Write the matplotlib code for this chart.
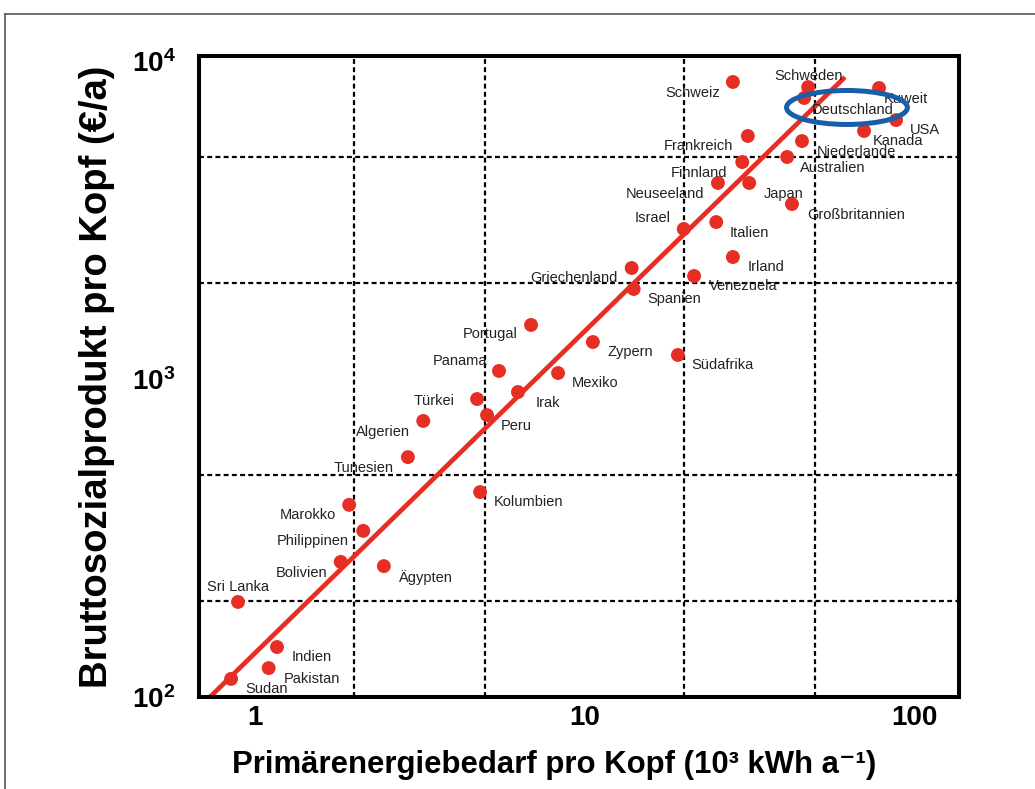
import matplotlib.pyplot as plt
from matplotlib.patches import Ellipse
from matplotlib.lines import Line2D

plt.rcParams["font.family"] = ["Liberation Sans", "DejaVu Sans"]
plt.rcParams["mathtext.fontset"] = "custom"
plt.rcParams["mathtext.rm"] = "Liberation Sans"
plt.rcParams["mathtext.bf"] = "Liberation Sans:bold"
plt.rcParams["mathtext.default"] = "bf"

# primary energy per head (10^3 kWh/a) and GNP per head (EUR/a)
countries = [
    "Schweiz", "Schweden", "Kuweit", "Deutschland", "USA", "Kanada",
    "Frankreich", "Niederlande", "Australien", "Finnland", "Neuseeland",
    "Japan", "Großbritannien", "Italien", "Israel", "Irland", "Griechenland",
    "Venezuela", "Spanien", "Portugal", "Zypern", "Südafrika", "Mexiko",
    "Panama", "Irak", "Türkei", "Peru", "Algerien", "Tunesien", "Kolumbien",
    "Marokko", "Philippinen", "Bolivien", "Ägypten", "Sri Lanka", "Indien",
    "Pakistan", "Sudan",
]
energy = [
    28.2, 47.7, 78.3, 46.4, 88.2, 70.5,
    31.3, 45.7, 41.2, 30.1, 25.4,
    31.6, 42.6, 25.1, 20.0, 28.2, 13.9,
    21.5, 14.1, 6.88, 10.6, 19.2, 8.31,
    5.50, 6.28, 4.72, 5.06, 3.24, 2.91, 4.82,
    1.93, 2.13, 1.82, 2.46, 0.888, 1.166,
    1.10, 0.846,
]
gnp = [
    8590, 8280, 8225, 7650, 6520, 6025,
    5810, 5600, 4990, 4810, 4135,
    4135, 3550, 3115, 2963, 2419, 2234,
    2108, 1919, 1479, 1307, 1190, 1044,
    1060, 910, 865, 770, 738, 568, 441,
    402, 333, 266, 258, 199, 143.6,
    123.3, 114,
]

# regression line end points
fit_energy = [0.73, 61.7]
fit_gnp = [100, 8900]

x_ticks = [1, 10, 100]
x_tick_labels = ["1", "10", "100"]
x_grid = [1, 2, 5, 10, 20, 50, 100]
y_ticks = [100, 1000, 10000]
y_tick_labels = ["10$^2$", "10$^3$", "10$^4$"]
y_grid = [200, 500, 1000, 2000, 5000]

# label offsets from the dot, in pixels (dx right, dy up)
label_offsets = {
    "Schweiz": (-40, -11), "Schweden": (0, 11), "Kuweit": (27, -11),
    "Deutschland": (49, -12), "USA": (29, -10), "Kanada": (34, -10),
    "Frankreich": (-49, -10), "Niederlande": (54, -11), "Australien": (46, -11),
    "Finnland": (-43, -11), "Neuseeland": (-53, -11), "Japan": (34, -11),
    "Großbritannien": (64, -11), "Italien": (33, -11), "Israel": (-31, 11),
    "Irland": (33, -10), "Griechenland": (-58, -10), "Venezuela": (49, -10),
    "Spanien": (41, -10), "Portugal": (-41, -9), "Zypern": (37, -10),
    "Südafrika": (45, -10), "Mexiko": (37, -10), "Panama": (-39, 10),
    "Irak": (30, -11), "Türkei": (-43, -2), "Peru": (29, -11),
    "Algerien": (-40, -11), "Tunesien": (-44, -11), "Kolumbien": (48, -10),
    "Marokko": (-41, -10), "Philippinen": (-50, -10), "Bolivien": (-39, -11),
    "Ägypten": (41, -11), "Sri Lanka": (0, 15), "Indien": (35, -10),
    "Pakistan": (43, -11), "Sudan": (35, -10),
}

red = "#e62e25"

fig = plt.figure(figsize=(10.35, 7.89), dpi=100)
ax = fig.add_axes([199 / 1035, 1 - 697 / 789, 760 / 1035, 641 / 789])
ax.set_xscale("log")
ax.set_yscale("log")
ax.set_xlim(0.676, 136.9)
ax.set_ylim(100, 10368)

ax.set_xticks(x_ticks)
ax.set_xticklabels(x_tick_labels)
ax.set_xticks(x_grid, minor=True)
ax.set_yticks(y_ticks)
ax.set_yticklabels(y_tick_labels)
ax.set_yticks(y_grid, minor=True)
ax.xaxis.set_minor_formatter(plt.NullFormatter())
ax.yaxis.set_minor_formatter(plt.NullFormatter())
ax.tick_params(which="both", length=0)
ax.tick_params(axis="x", pad=6, labelsize=20)
ax.tick_params(axis="y", pad=17, labelsize=20)
for lab in ax.get_xticklabels() + ax.get_yticklabels():
    lab.set_fontweight("bold")

ax.grid(which="minor", color="black", linestyle=(0, (2.2, 1.5)), linewidth=1.6)
ax.grid(which="major", visible=False)
ax.set_axisbelow(True)
for spine in ax.spines.values():
    spine.set_linewidth(2.9)
    spine.set_zorder(5)

ax.plot(fit_energy, fit_gnp, color=red, linewidth=3.4, zorder=3, solid_capstyle="butt")
ax.scatter(energy, gnp, s=100, color=red, edgecolors="none", zorder=4)

for name, xv, yv in zip(countries, energy, gnp):
    dx, dy = label_offsets[name]
    ax.annotate(name, (xv, yv), xytext=(dx, dy), textcoords="offset pixels",
                ha="center", va="center", fontsize=10.5, color="#222222", zorder=6)

ax.add_patch(Ellipse((0.8526, 0.9197), 0.159, 0.053, transform=ax.transAxes,
                     fill=False, edgecolor="#1a5ea8", linewidth=3.6, zorder=7))

fig.text(554 / 1035, 1 - 765 / 789,
         "Primärenergiebedarf pro Kopf (10³ kWh a⁻¹)",
         ha="center", va="center", fontsize=22.4, fontweight="bold")
fig.text(97 / 1035, 1 - 377 / 789, "Bruttosozialprodukt pro Kopf (€/a)",
         ha="center", va="center", rotation=90, fontsize=27.5, fontweight="bold")

# thin frame around the figure, cut off at right and bottom
fig.add_artist(Line2D([5 / 1035, 1.0], [1 - 14 / 789, 1 - 14 / 789],
                      transform=fig.transFigure, color="#555555", linewidth=1.2))
fig.add_artist(Line2D([5 / 1035, 5 / 1035], [0.0, 1 - 14 / 789],
                      transform=fig.transFigure, color="#555555", linewidth=1.2))

fig.savefig("out.png", dpi=100)
